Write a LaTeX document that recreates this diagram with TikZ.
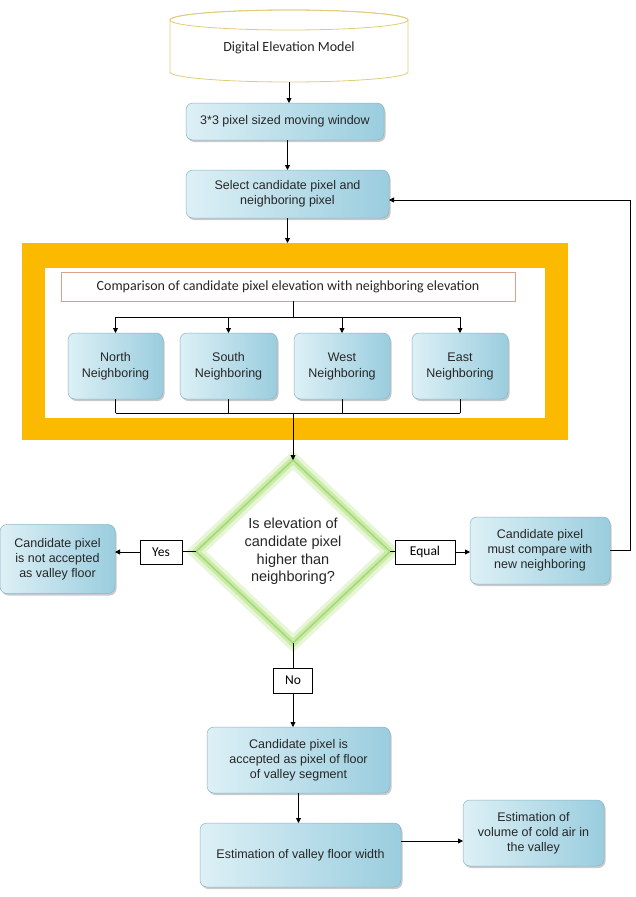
\documentclass[tikz,border=0pt]{standalone}
\usepackage{fontspec}
\setmainfont{Liberation Sans}
\newfontfamily\calfont{Carlito}
\usetikzlibrary{arrows.meta,shapes.geometric,shadows,calc}
\definecolor{boxA}{HTML}{DDF0F6}
\definecolor{boxB}{HTML}{9ACDDE}
\definecolor{boxline}{HTML}{86B6C6}
\definecolor{orangeF}{HTML}{FBB900}
\definecolor{cmpline}{HTML}{D9A08A}
\definecolor{demline}{HTML}{E0CC78}
\definecolor{glowA}{HTML}{E6F6D6}
\definecolor{glowB}{HTML}{CBEBA9}
\definecolor{glowC}{HTML}{A5D977}
\begin{document}
\begin{tikzpicture}[x=1pt,y=-1pt,
  bx/.style={rounded corners=7pt, draw=boxline, line width=0.5pt,
    left color=boxA, right color=boxB,
    drop shadow={shadow xshift=1.5pt, shadow yshift=-2pt, opacity=0.35, fill=black!60},
    font=\fontsize{12.5}{15}\selectfont, align=center, text=black!85,
    inner sep=2pt, outer sep=0pt},
  lbl/.style={draw=black, line width=0.6pt, fill=white,
    font=\calfont\fontsize{13.5}{15}\selectfont, inner sep=0pt, outer sep=0pt},
  arr/.style={-{Triangle[length=5pt,width=5pt]}, line width=0.8pt},
  ln/.style={line width=0.8pt},
  dia/.style={diamond, fill=white, inner sep=0pt, outer sep=0pt,
    postaction={draw=glowA, line width=14pt},
    postaction={draw=glowB, line width=7pt},
    postaction={draw=glowC, line width=1.5pt},
    font=\fontsize{14.5}{17.8}\selectfont, align=center, text=black!85}
]
\useasboundingbox (0,0) rectangle (636,897);

% Digital Elevation Model (cylinder)
\node[minimum width=238pt, minimum height=72pt, inner sep=0pt, outer sep=0pt] (dem) at (289,46) {};
\draw[demline, line width=0.8pt, fill=white]
  ([yshift=-10pt]dem.north west) -- ([yshift=10pt]dem.south west)
  arc (180:360:119pt and 10pt) -- ([yshift=-10pt]dem.north east)
  arc (0:180:119pt and 10pt) -- cycle;
\draw[demline, line width=0.8pt] ([yshift=-10pt]dem.north) ellipse (119pt and 10pt);
\node[font=\calfont\fontsize{14}{16}\selectfont, text=black!85] at ([yshift=-2pt]dem.center) {Digital Elevation Model};

\node[bx, minimum width=198pt, minimum height=37pt] (win) at (285,121.5) {3*3 pixel sized moving window};
\node[bx, minimum width=203pt, minimum height=48pt] (sel) at (287.5,194) {Select candidate pixel and\\neighboring pixel};

% orange frame
\node[fill=orangeF, minimum width=546pt, minimum height=197pt, inner sep=0pt, outer sep=0pt] (frame) at (295,341.5) {};
\node[fill=white, minimum width=500pt, minimum height=150pt, inner sep=0pt, outer sep=0pt] (inner) at (295,343) {};
\node[draw=cmpline, line width=0.8pt, fill=white, minimum width=454pt, minimum height=29pt,
  inner sep=0pt, outer sep=0pt, font=\calfont\fontsize{14}{16}\selectfont, text=black!85] (cmp) at (288,286.5)
  {Comparison of candidate pixel elevation with neighboring elevation};

\node[bx, minimum width=95pt, minimum height=66pt, font=\fontsize{12.5}{16}\selectfont] (north) at (115.5,366) {North\\Neighboring};
\node[bx, minimum width=97pt, minimum height=66pt, font=\fontsize{12.5}{16}\selectfont] (south) at (228.5,366) {South\\Neighboring};
\node[bx, minimum width=96pt, minimum height=66pt, font=\fontsize{12.5}{16}\selectfont] (west) at (342,366) {West\\Neighboring};
\node[bx, minimum width=96pt, minimum height=66pt, font=\fontsize{12.5}{16}\selectfont] (east) at (460,366) {East\\Neighboring};

% decision
\node[dia, minimum width=194pt, minimum height=183pt] (dia) at (293,551.5)
  {Is elevation of\\candidate pixel\\higher than\\neighboring?};

\node[lbl, minimum width=42pt, minimum height=24pt] (yes) at (161,552) {Yes};
\node[bx, minimum width=115pt, minimum height=69pt] (notacc) at (57.5,559) {Candidate pixel\\is not accepted\\as valley floor};
\node[lbl, minimum width=60pt, minimum height=24pt] (equal) at (425,552) {Equal};
\node[bx, minimum width=140pt, minimum height=67pt] (cmpnew) at (540,550.5) {Candidate pixel\\must compare with\\new neighboring};
\node[lbl, minimum width=39pt, minimum height=25pt] (no) at (293,680.5) {No};

\node[bx, minimum width=183pt, minimum height=66pt] (acc) at (298.5,760) {Candidate pixel is\\accepted as pixel of floor\\of valley segment};
\node[bx, minimum width=201pt, minimum height=64pt] (width) at (300.5,855) {Estimation of valley floor width};
\node[bx, minimum width=141pt, minimum height=66pt] (vol) at (533.5,833) {Estimation of\\volume of cold air in\\the valley};

% connectors
\draw[arr] (dem.south) -- (dem.south |- win.north);
\draw[arr] (win.south -| sel.north) -- (sel.north);
\draw[arr] (sel.south) -- (sel.south |- frame.north);

\coordinate (split) at (293,317);
\coordinate (join) at (293,413);
\draw[ln] (split |- cmp.south) -- (split);
\draw[ln] (north.north |- split) -- (east.north |- split);
\foreach \n in {north,south,west,east}{
  \draw[arr] (\n.north |- split) -- (\n.north);
  \draw[ln] (\n.south) -- (\n.south |- join);
}
\draw[ln] (north.south |- join) -- (east.south |- join);
\draw[arr] (join) -- (dia.north);

\draw[ln] (dia.west) -- (yes.east |- dia.west);
\draw[arr] (yes.west) -- (yes.west -| notacc.east);
\draw[ln] (dia.east) -- (equal.west |- dia.east);
\draw[arr] (equal.east) -- (equal.east -| cmpnew.west);

\coordinate (fb) at (630,550.5);
\draw[arr] (cmpnew.east) -- (fb) |- ([yshift=-6pt]sel.east);

\draw[ln] (dia.south) -- (no.north);
\draw[arr] (no.south) -- (no.south |- acc.north);
\draw[arr] (acc.south) -- (acc.south |- width.north);
\draw[arr] ([yshift=-8pt]vol.west -| width.east) -- ([yshift=-8pt]vol.west);
\end{tikzpicture}
\end{document}
